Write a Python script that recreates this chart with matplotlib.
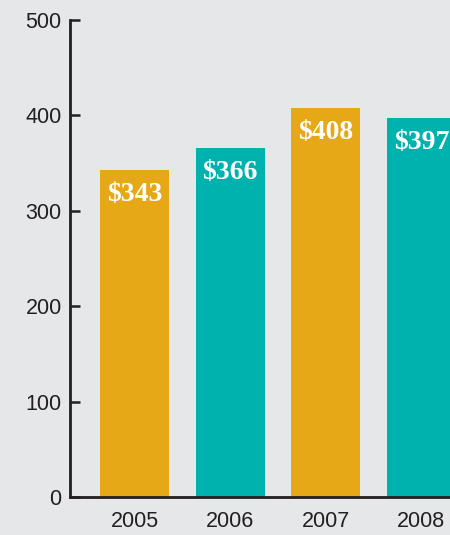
import matplotlib.pyplot as plt
import numpy as np

years = ["2005", "2006", "2007", "2008"]
values = [343, 366, 408, 397]
labels = ["$343", "$366", "$408", "$397"]
y_ticks = [0, 100, 200, 300, 400, 500]

C_GOLD = "#e6a817"
C_TEAL = "#00b2ae"
C_BG = "#e6e7e9"
C_INK = "#231f20"
bar_colors = [C_GOLD, C_TEAL, C_GOLD, C_TEAL]

plt.rcParams["font.family"] = ["Liberation Sans Narrow", "Liberation Sans", "DejaVu Sans"]

fig = plt.figure(figsize=(4.5, 5.35), dpi=100, facecolor=C_BG)
ax = fig.add_axes([0.1556, 0.071, 0.8444, 0.8916])
ax.set_facecolor(C_BG)

x = np.arange(len(years))
bars = ax.bar(x, values, width=0.72, color=bar_colors, zorder=2)

for b, lab in zip(bars, labels):
    ax.annotate(lab, (b.get_x() + b.get_width() / 2, b.get_height()),
                xytext=(0, -17.5), textcoords="offset points",
                ha="center", va="center", color="white",
                fontsize=20, fontweight="bold",
                family=["Liberation Serif", "DejaVu Serif"])

ax.set_xlim(-0.675, 3.30)
ax.set_ylim(0, 500)
ax.set_yticks(y_ticks)
ax.set_xticks(x)
ax.set_xticklabels(years)

for sp in ["top", "right"]:
    ax.spines[sp].set_visible(False)
for sp in ["left", "bottom"]:
    ax.spines[sp].set_color(C_INK)
    ax.spines[sp].set_linewidth(2)

ax.tick_params(axis="y", direction="in", length=7, width=1.8,
               color=C_INK, labelsize=15.5, labelcolor=C_INK, pad=6)
ax.tick_params(axis="x", length=0, labelsize=15.5, labelcolor=C_INK, pad=10)

fig.savefig("out.png", dpi=100, facecolor=C_BG)
